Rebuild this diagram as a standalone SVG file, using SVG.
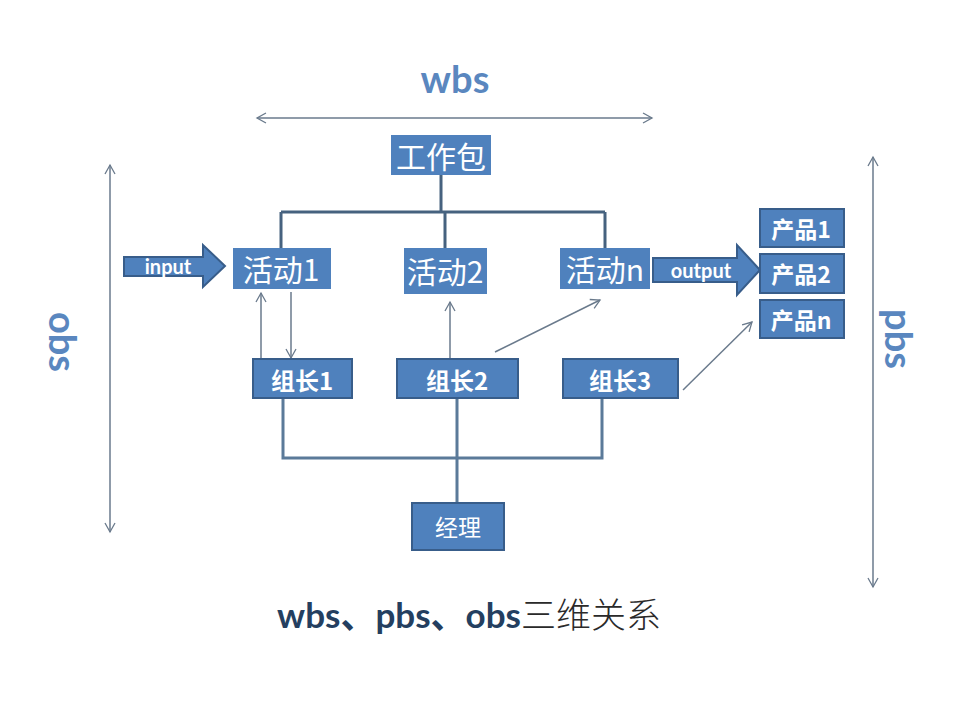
<svg xmlns="http://www.w3.org/2000/svg" width="960" height="720" viewBox="0 0 960 720">
<defs>
<marker id="open" markerWidth="12" markerHeight="12" refX="10" refY="6" orient="auto" markerUnits="userSpaceOnUse">
<path d="M1,1 L10,6 L1,11" fill="none" stroke="#6A7A8C" stroke-width="1.3"/>
</marker>
<marker id="openStart" markerWidth="12" markerHeight="12" refX="2" refY="6" orient="auto" markerUnits="userSpaceOnUse">
<path d="M11,1 L2,6 L11,11" fill="none" stroke="#6A7A8C" stroke-width="1.3"/>
</marker>
</defs>
<style>
.box{fill:#4F81BD;stroke:#385D8A;stroke-width:2}
.flat{fill:#4F81BD;stroke:none}
.cn{font-family:"Noto Sans CJK SC",sans-serif;fill:#fff;text-anchor:middle;dominant-baseline:central}
.cnb{font-family:"Noto Sans CJK SC",sans-serif;fill:#fff;text-anchor:middle;dominant-baseline:central;font-weight:bold}
.lat{font-family:Lato,"Open Sans",sans-serif;font-weight:bold;fill:#fff;text-anchor:middle;dominant-baseline:central}
.axis{font-family:Lato,"Open Sans",sans-serif;font-weight:bold;fill:#5A87BF;font-size:38px;text-anchor:middle;dominant-baseline:central}
.tree{fill:none;stroke:#46627F;stroke-width:3}
.tree2{fill:none;stroke:#5B7A99;stroke-width:3}
.thin{fill:none;stroke:#6A7A8C;stroke-width:1.5}
</style>
<rect width="960" height="720" fill="#fff"/>

<g id="axes">
<line class="thin" x1="257" y1="118" x2="652" y2="118" marker-start="url(#openStart)" marker-end="url(#open)"/>
<line class="thin" x1="110" y1="165" x2="110" y2="532" marker-start="url(#openStart)" marker-end="url(#open)"/>
<line class="thin" x1="873" y1="157" x2="873" y2="587" marker-start="url(#openStart)" marker-end="url(#open)"/>
<text class="axis" x="455" y="78">wbs</text>
<text class="axis" transform="translate(64,342) rotate(90)">obs</text>
<text class="axis" transform="translate(900,339) rotate(90)">pbs</text>
</g>

<g id="connectors">
<path class="tree" d="M441,174 V212 M281,212 H605 M281,212 V248 M445,212 V248 M605,212 V248"/>
<path class="tree2" d="M283,398 V458 H602 V398 M457,398 V503"/>
<line class="thin" x1="261" y1="359" x2="261" y2="293" marker-end="url(#open)"/>
<line class="thin" x1="291" y1="292" x2="291" y2="358" marker-end="url(#open)"/>
<line class="thin" x1="450" y1="359" x2="450" y2="302" marker-end="url(#open)"/>
<line class="thin" x1="495" y1="352" x2="600" y2="300" marker-end="url(#open)"/>
<line class="thin" x1="683" y1="390" x2="752" y2="322" marker-end="url(#open)"/>
</g>

<g id="node-gongzuobao">
<rect class="flat" x="391" y="135" width="100" height="40"/>
<text class="cn" x="441" y="155" font-size="30">工作包</text>
</g>
<g id="node-huodong1">
<rect class="flat" x="233" y="248" width="98" height="41"/>
<text class="cn" x="281" y="268" font-size="30">活动1</text>
</g>
<g id="node-huodong2">
<rect class="flat" x="404" y="248" width="83" height="46"/>
<text class="cn" x="445" y="270" font-size="30">活动2</text>
</g>
<g id="node-huodongn">
<rect class="flat" x="560" y="248" width="90" height="41"/>
<text class="cn" x="605" y="268" font-size="30">活动n</text>
</g>

<g id="node-input">
<polygon class="box" points="124,257 203,257 203,245 225,266 203,287 203,276 124,276"/>
<text class="lat" x="168" y="266" font-size="20">input</text>
</g>
<g id="node-output">
<polygon class="box" points="653,258 737,258 737,245 760,270 737,295 737,282 653,282"/>
<text class="lat" x="701" y="270" font-size="20">output</text>
</g>

<g id="node-chanpin1">
<rect class="box" x="760" y="209" width="84" height="38"/>
<text class="cnb" x="801" y="228" font-size="23">产品1</text>
</g>
<g id="node-chanpin2">
<rect class="box" x="760" y="254" width="84" height="39"/>
<text class="cnb" x="801" y="273" font-size="23">产品2</text>
</g>
<g id="node-chanpinn">
<rect class="box" x="760" y="300" width="84" height="38"/>
<text class="cnb" x="801" y="319" font-size="23">产品n</text>
</g>

<g id="node-zuzhang1">
<rect class="box" x="253" y="359" width="99" height="39"/>
<text class="cnb" x="302" y="379" font-size="24">组长1</text>
</g>
<g id="node-zuzhang2">
<rect class="box" x="397" y="359" width="121" height="39"/>
<text class="cnb" x="457" y="379" font-size="24">组长2</text>
</g>
<g id="node-zuzhang3">
<rect class="box" x="563" y="359" width="115" height="39"/>
<text class="cnb" x="620" y="379" font-size="24">组长3</text>
</g>

<g id="node-jingli">
<rect class="box" x="412" y="503" width="92" height="47"/>
<text class="cn" x="458" y="526" font-size="23">经理</text>
</g>

<g id="title">
<text x="469" y="628" text-anchor="middle" font-size="35"><tspan font-family="Lato,'Open Sans','Noto Sans CJK SC',sans-serif" font-weight="bold" fill="#243F60">wbs、pbs、obs</tspan><tspan font-family="'Noto Sans CJK SC',sans-serif" font-weight="300" fill="#2A2A2A">三维关系</tspan></text>
</g>
</svg>
